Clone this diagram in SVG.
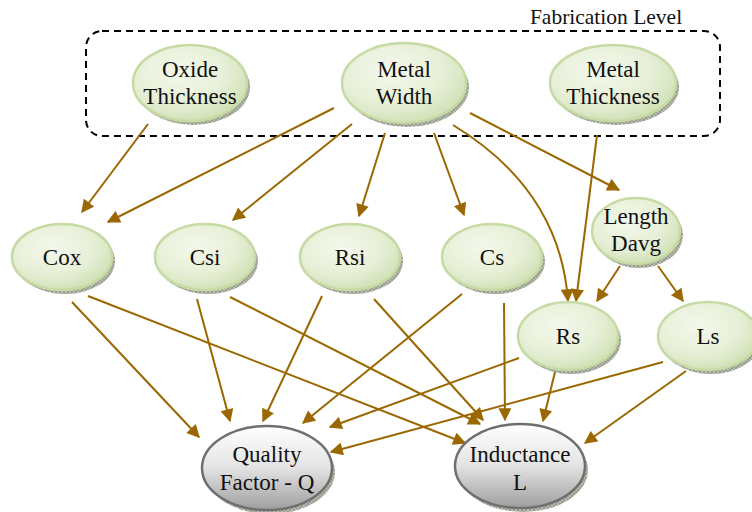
<svg xmlns="http://www.w3.org/2000/svg" width="752" height="512" viewBox="0 0 752 512">
<defs>
<radialGradient id="gG" cx="0.4" cy="0.35" r="0.7">
<stop offset="0" stop-color="#f4f8ec"/>
<stop offset="0.6" stop-color="#e6efd6"/>
<stop offset="1" stop-color="#cfdfb2"/>
</radialGradient>
<linearGradient id="gY" x1="0" y1="0" x2="0" y2="1">
<stop offset="0" stop-color="#ffffff"/>
<stop offset="0.5" stop-color="#e3e3e3"/>
<stop offset="1" stop-color="#9e9e9e"/>
</linearGradient>
<pattern id="hatch" width="4" height="4" patternUnits="userSpaceOnUse">
<rect width="4" height="4" fill="#b8bcae"/>
<path d="M0 0L4 4M4 0L0 4" stroke="#7f8576" stroke-width="0.6"/>
</pattern>
<marker id="ah" viewBox="0 0 10 10" refX="9" refY="5" markerWidth="7" markerHeight="6.5" markerUnits="strokeWidth" orient="auto">
<path d="M0 0L10 5L0 10z" fill="#9a6700"/>
</marker>
</defs>
<style>
.g{fill:url(#gG);stroke:#c6dba4;stroke-width:2.5}
.y{fill:url(#gY);stroke:#6f6f6f;stroke-width:2.5}
.sh{fill:url(#hatch)}
text{font-family:'Liberation Serif','Times New Roman','DejaVu Serif',serif;font-size:23px;fill:#111;text-anchor:middle}
.e{fill:none;stroke:#9a6700;stroke-width:2;marker-end:url(#ah)}
</style>
<rect x="86" y="31" width="634" height="105" rx="16" fill="none" stroke="#000" stroke-width="2" stroke-dasharray="7,5"/>
<text x="606" y="24" style="font-size:21.5px">Fabrication Level</text>
<g id="connectors">
<path class="e" d="M148 124L82 212"/>
<path class="e" d="M334 108L108 222"/>
<path class="e" d="M352 124L233 220"/>
<path class="e" d="M385 133L359 216"/>
<path class="e" d="M434 133L464 215"/>
<path class="e" d="M453 125Q560 190 568 301"/>
<path class="e" d="M470 113L619 190"/>
<path class="e" d="M597 135L576 301"/>
<path class="e" d="M620 266L597 301"/>
<path class="e" d="M658 266L683 301"/>
<path class="e" d="M72 302L199 437"/>
<path class="e" d="M88 296L465 443"/>
<path class="e" d="M197 299L230 421"/>
<path class="e" d="M230 297L480 424"/>
<path class="e" d="M322 296L263 421"/>
<path class="e" d="M374 299L483 420"/>
<path class="e" d="M462 294L303 423"/>
<path class="e" d="M504 303L505 420"/>
<path class="e" d="M519 358L330 427"/>
<path class="e" d="M555 372L543 421"/>
<path class="e" d="M663 362L331 452"/>
<path class="e" d="M686 371L585 443"/>
</g>
<g id="oxide"><ellipse class="sh" cx="193" cy="87" rx="57" ry="38"/><ellipse class="g" cx="190" cy="83" rx="57" ry="38"/><text x="190" y="77">Oxide</text><text x="190" y="104">Thickness</text></g>
<g id="mwidth"><ellipse class="sh" cx="407" cy="87" rx="62" ry="40"/><ellipse class="g" cx="404" cy="83" rx="62" ry="40"/><text x="404" y="77">Metal</text><text x="404" y="104">Width</text></g>
<g id="mthick"><ellipse class="sh" cx="616" cy="87" rx="63" ry="38"/><ellipse class="g" cx="613" cy="83" rx="63" ry="38"/><text x="613" y="77">Metal</text><text x="613" y="104">Thickness</text></g>
<g id="cox"><ellipse class="sh" cx="65" cy="261" rx="50" ry="33"/><ellipse class="g" cx="62" cy="257" rx="50" ry="33"/><text x="62" y="265">Cox</text></g>
<g id="csi"><ellipse class="sh" cx="208" cy="261" rx="50" ry="33"/><ellipse class="g" cx="205" cy="257" rx="50" ry="33"/><text x="205" y="265">Csi</text></g>
<g id="rsi"><ellipse class="sh" cx="353" cy="261" rx="50" ry="33"/><ellipse class="g" cx="350" cy="257" rx="50" ry="33"/><text x="350" y="265">Rsi</text></g>
<g id="cs"><ellipse class="sh" cx="495" cy="261" rx="50" ry="33"/><ellipse class="g" cx="492" cy="257" rx="50" ry="33"/><text x="492" y="265">Cs</text></g>
<g id="length"><ellipse class="sh" cx="639" cy="235" rx="44" ry="33"/><ellipse class="g" cx="636" cy="231" rx="44" ry="33"/><text x="636" y="224">Length</text><text x="636" y="251">Davg</text></g>
<g id="rs"><ellipse class="sh" cx="571" cy="340" rx="50" ry="34"/><ellipse class="g" cx="568" cy="336" rx="50" ry="34"/><text x="568" y="344">Rs</text></g>
<g id="ls"><ellipse class="sh" cx="711" cy="340" rx="50" ry="34"/><ellipse class="g" cx="708" cy="336" rx="50" ry="34"/><text x="708" y="344">Ls</text></g>
<g id="quality"><ellipse class="sh" cx="270" cy="472" rx="65" ry="42"/><ellipse class="y" cx="267" cy="468" rx="65" ry="42"/><text x="267" y="462">Quality</text><text x="267" y="490">Factor - Q</text></g>
<g id="inductance"><ellipse class="sh" cx="523" cy="470" rx="65" ry="42"/><ellipse class="y" cx="520" cy="466" rx="65" ry="42"/><text x="520" y="462">Inductance</text><text x="520" y="490">L</text></g>
</svg>
